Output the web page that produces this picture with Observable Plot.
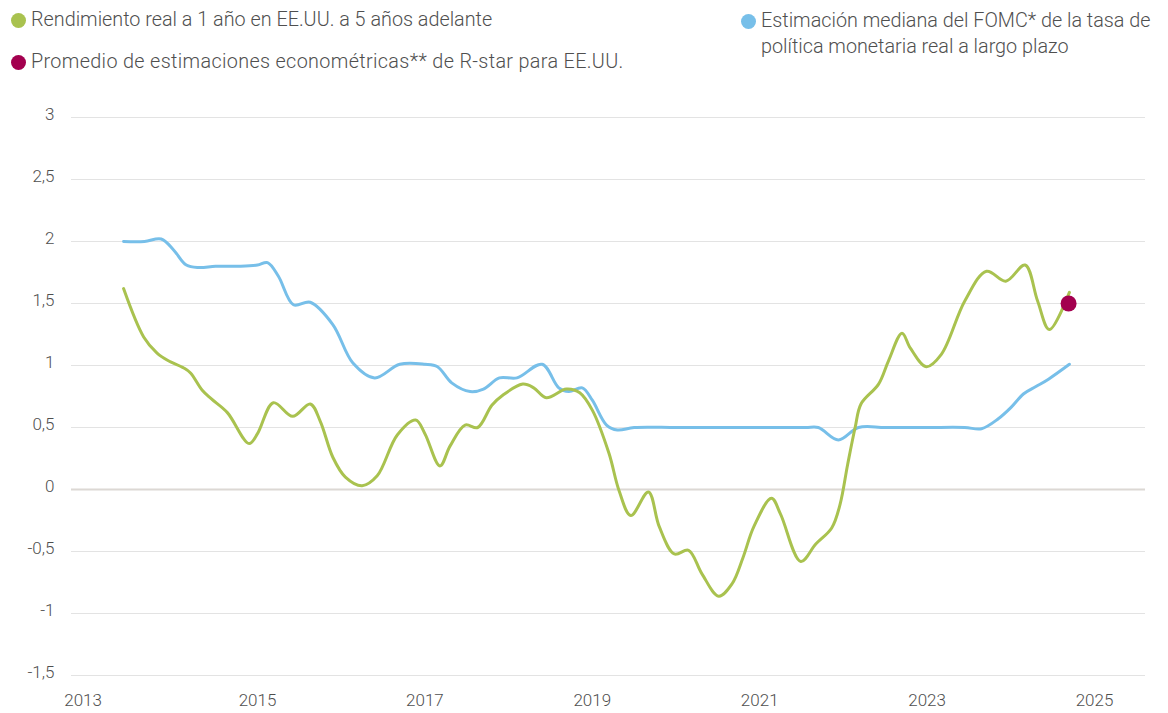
<!DOCTYPE html>
<html><head><meta charset="utf-8">
<script src="https://cdn.jsdelivr.net/npm/d3@7"></script>
<script src="https://cdn.jsdelivr.net/npm/@observablehq/plot@0.6"></script>
<style>
body{margin:0;background:#fff;font-family:Roboto,sans-serif;}
#legend{position:relative;height:80px;width:1168px;color:#4f4f4f;font-size:19.8px;font-weight:300;line-height:26px;}
.item{position:absolute;white-space:nowrap;}
.sw{position:absolute;width:15px;height:15px;border-radius:50%;}
</style>
</head><body>
<div id="legend"></div>
<div id="chart"></div>
<script>
// ---- data ----
const seriesNames = [
  "Rendimiento real a 1 año en EE.UU. a 5 años adelante",
  "Estimación mediana del FOMC* de la tasa de<br>política monetaria real a largo plazo",
  "Promedio de estimaciones econométricas** de R-star para EE.UU."
];
const seriesColors = ["#a9c24f", "#77bfe9", "#a3004f"];

const greenYears = [2013.40,2013.64,2013.80,2013.93,2014.12,2014.20,2014.34,2014.45,2014.64,2014.90,2015.00,2015.19,2015.42,2015.63,2015.75,2015.90,2016.05,2016.25,2016.43,2016.67,2016.89,2017.00,2017.18,2017.30,2017.48,2017.63,2017.80,2017.93,2018.17,2018.30,2018.45,2018.69,2018.85,2019.00,2019.20,2019.32,2019.46,2019.67,2019.80,2019.98,2020.15,2020.31,2020.51,2020.67,2020.80,2020.93,2021.14,2021.25,2021.49,2021.67,2021.86,2021.96,2022.05,2022.14,2022.21,2022.42,2022.54,2022.70,2022.80,2022.99,2023.17,2023.45,2023.71,2023.94,2024.17,2024.32,2024.46,2024.70];
const greenValues = [1.62,1.23,1.10,1.04,0.98,0.94,0.80,0.73,0.62,0.37,0.45,0.70,0.59,0.69,0.55,0.26,0.10,0.03,0.11,0.44,0.56,0.45,0.19,0.35,0.52,0.50,0.68,0.76,0.85,0.82,0.74,0.81,0.78,0.64,0.29,-0.01,-0.21,-0.02,-0.30,-0.52,-0.49,-0.68,-0.86,-0.76,-0.55,-0.30,-0.07,-0.20,-0.58,-0.44,-0.31,-0.12,0.20,0.50,0.69,0.85,1.04,1.26,1.14,0.99,1.09,1.52,1.76,1.68,1.81,1.52,1.29,1.59];

const blueYears = [2013.40,2013.65,2013.85,2014.00,2014.15,2014.30,2014.50,2014.80,2015.00,2015.12,2015.25,2015.43,2015.63,2015.90,2016.14,2016.40,2016.70,2017.00,2017.15,2017.32,2017.54,2017.70,2017.89,2018.10,2018.40,2018.60,2018.72,2018.88,2019.00,2019.17,2019.30,2019.50,2020.00,2020.50,2021.00,2021.55,2021.70,2021.94,2022.18,2022.50,2023.00,2023.45,2023.65,2023.85,2024.00,2024.15,2024.30,2024.45,2024.70];
const blueValues = [2.00,2.00,2.02,1.93,1.81,1.79,1.80,1.80,1.81,1.83,1.72,1.49,1.51,1.33,1.02,0.90,1.01,1.01,0.99,0.86,0.79,0.81,0.90,0.90,1.01,0.82,0.79,0.82,0.72,0.52,0.48,0.50,0.50,0.50,0.50,0.50,0.50,0.40,0.50,0.50,0.50,0.50,0.49,0.57,0.66,0.77,0.83,0.89,1.01];

const rstarYears = [2024.69];
const rstarValues = [1.50];

const yTicks = [-1.5,-1,-0.5,0,0.5,1,1.5,2,2.5,3];
const xTicks = [2013,2015,2017,2019,2021,2023,2025];

// ---- legend ----
const legend = document.getElementById("legend");
const legendPos = [
  {left: 11, top: 7, idx: 0, ls: 0},
  {left: 741, top: 8, idx: 1, ls: 0},
  {left: 11, top: 49, idx: 2, ls: 0.35}
];
for (const p of legendPos) {
  const sw = document.createElement("span");
  sw.className = "sw";
  sw.style.left = p.left + "px";
  sw.style.top = (p.top + 6) + "px";
  sw.style.background = seriesColors[p.idx];
  legend.appendChild(sw);
  const t = document.createElement("div");
  t.className = "item";
  t.style.left = (p.left + 20) + "px";
  t.style.top = p.top + "px";
  t.style.letterSpacing = p.ls + "px";
  t.innerHTML = seriesNames[p.idx];
  legend.appendChild(t);
}

// ---- chart ----
const green = greenYears.map((y, i) => ({year: y, value: greenValues[i]}));
const blue = blueYears.map((y, i) => ({year: y, value: blueValues[i]}));
const rstar = rstarYears.map((y, i) => ({year: y, value: rstarValues[i]}));
const fmt = d => String(d).replace(".", ",");

const chart = Plot.plot({
  width: 1168, height: 633,
  marginLeft: 71, marginRight: 23, marginTop: 37, marginBottom: 38,
  x: {domain: [2012.778, 2025.609]},
  y: {domain: [-1.5, 3]},
  style: {fontFamily: "Roboto, sans-serif", fontSize: "17px", fontWeight: 300, color: "#4f4f4f", background: "white"},
  marks: [
    Plot.ruleY(yTicks.filter(d => d !== 0), {stroke: "#e3e3e3", strokeWidth: 1}),
    Plot.ruleY([0], {stroke: "#dcd8d4", strokeWidth: 2}),
    Plot.axisY({ticks: yTicks, tickSize: 0, tickPadding: 17, tickFormat: fmt, dy: -3, label: null, fontSize: 17}),
    Plot.axisX({ticks: xTicks.slice(0, 1), tickSize: 0, tickPadding: 18, tickFormat: d => String(d), dx: -7, label: null, fontSize: 17}),
    Plot.axisX({ticks: xTicks.slice(1), tickSize: 0, tickPadding: 18, tickFormat: d => String(d), label: null, fontSize: 17}),
    Plot.line(blue, {x: "year", y: "value", stroke: seriesColors[1], strokeWidth: 3, curve: "catmull-rom"}),
    Plot.line(green, {x: "year", y: "value", stroke: seriesColors[0], strokeWidth: 3, curve: "catmull-rom"}),
    Plot.dot(rstar, {x: "year", y: "value", r: 8, fill: seriesColors[2], stroke: "none"})
  ]
});
document.getElementById("chart").appendChild(chart);
</script>
</body></html>
